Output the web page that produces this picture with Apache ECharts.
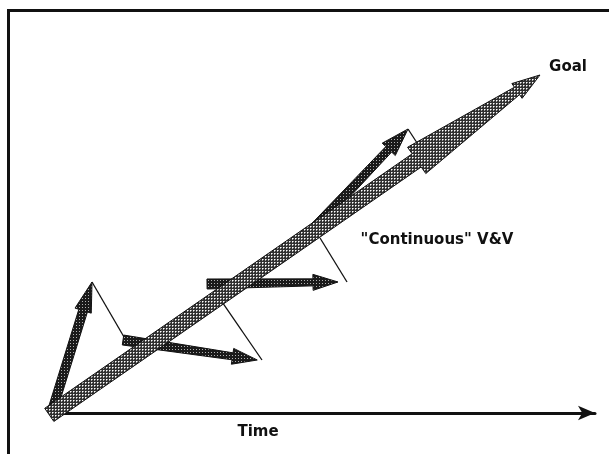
<!DOCTYPE html>
<html>
<head>
<meta charset="utf-8">
<script src="https://cdn.jsdelivr.net/npm/echarts@6/dist/echarts.min.js"></script>
<style>
  html, body { margin: 0; padding: 0; background: #fff; }
  #frame { position: absolute; left: 7px; top: 9px; width: 620px; height: 460px;
           border-left: 3px solid #111; border-top: 3px solid #111; }
  #chart { position: absolute; left: 0; top: 0; width: 609px; height: 454px; }
</style>
</head>
<body>
<div id="frame"></div>
<div id="chart"></div>
<script>
// ---- data (time units on x, progress units on y) ----
const arrowNames  = ['Direct path', 'Step 1', 'Step 2', 'Step 3', 'Step 4'];
const arrowStartX = [-0.5, 0.0, 13.08, 28.55, 45.67];
const arrowStartY = [-0.5, 0.5, 19.31, 34.13, 44.97];
const arrowEndX   = [89.87, 7.37, 37.80, 52.67, 65.56];
const arrowEndY   = [89.42, 34.66, 14.02, 34.66, 75.13];

const linkStartX = [7.37, 38.67, 54.33, 65.56];
const linkStartY = [34.66, 14.02, 34.66, 75.13];
const linkEndX   = [13.26, 31.31, 49.36, 67.96];
const linkEndY   = [20.11, 29.37, 46.30, 69.84];

const labelText = ['Goal', '"Continuous" V&V', 'Time'];
const labelX    = [95.03, 70.90, 37.94];
const labelY    = [91.53, 45.77, -5.03];

// ---- styles (pixel profiles of each arrow: [distance from start (neg = from tip), half width]) ----
const arrowProfiles = [
  [[0, 8], [-150, 8], [-150, 16], [-28, 4.5], [-28, 9]],
  [[0, 4.5], [-30, 4.5], [-30, 8.5]],
  [[0, 5], [-25, 3.5], [-25, 8]],
  [[0, 5], [-25, 3.5], [-25, 8]],
  [[0, 5], [-28, 4], [-28, 9]]
];

function makePattern(bg, dot, dot2) {
  const c = document.createElement('canvas');
  c.width = 3; c.height = 3;
  const g = c.getContext('2d');
  g.fillStyle = bg; g.fillRect(0, 0, 3, 3);
  g.fillStyle = dot; g.fillRect(1, 1, 1, 1);
  if (dot2) { g.fillStyle = dot2; g.fillRect(2, 1, 1, 1); g.fillRect(1, 2, 1, 1); }
  return c;
}
const mainPattern = { image: makePattern('#303030', '#ffffff', '#a0a0a0'), repeat: 'repeat' };
const darkPattern = { image: makePattern('#1a1a1a', '#b0b0b0'), repeat: 'repeat' };

function arrowPolygon(p0, p1, profile) {
  const dx = p1[0] - p0[0], dy = p1[1] - p0[1];
  const L = Math.hypot(dx, dy);
  const ux = dx / L, uy = dy / L, nx = -uy, ny = ux;
  const left = [], right = [];
  profile.forEach(function (st) {
    const d = st[0] < 0 ? L + st[0] : st[0];
    const cx = p0[0] + ux * d, cy = p0[1] + uy * d;
    left.push([cx + nx * st[1], cy + ny * st[1]]);
    right.push([cx - nx * st[1], cy - ny * st[1]]);
  });
  return left.concat([p1], right.reverse());
}

const arrowData = arrowNames.map(function (n, i) {
  return { name: n, value: [arrowStartX[i], arrowStartY[i], arrowEndX[i], arrowEndY[i]] };
});
const linkData = linkStartX.map(function (v, i) {
  return [linkStartX[i], linkStartY[i], linkEndX[i], linkEndY[i]];
});
const labelData = labelText.map(function (t, i) {
  return { name: t, value: [labelX[i], labelY[i]] };
});

const chart = echarts.init(document.getElementById('chart'), null, { renderer: 'canvas' });
chart.setOption({
  animation: false,
  backgroundColor: 'transparent',
  grid: { left: 52, right: 14, top: 35, bottom: 41 },
  xAxis: {
    type: 'value', min: 0, max: 100,
    axisLine: { show: true, symbol: ['none', 'arrow'], symbolSize: [11, 17],
                lineStyle: { color: '#111', width: 3 } },
    axisTick: { show: false }, axisLabel: { show: false }, splitLine: { show: false }
  },
  yAxis: {
    type: 'value', min: 0, max: 100, show: false
  },
  series: [
    {
      type: 'custom', name: 'links', data: linkData, z: 2,
      renderItem: function (params, api) {
        const a = api.coord([api.value(0), api.value(1)]);
        const b = api.coord([api.value(2), api.value(3)]);
        return { type: 'line', shape: { x1: a[0], y1: a[1], x2: b[0], y2: b[1] },
                 style: { stroke: '#111', lineWidth: 1.3 } };
      }
    },
    {
      type: 'custom', name: 'arrows', data: arrowData, z: 3,
      renderItem: function (params, api) {
        const i = params.dataIndex;
        const a = api.coord([api.value(0), api.value(1)]);
        const b = api.coord([api.value(2), api.value(3)]);
        const pts = arrowPolygon(a, b, arrowProfiles[i]);
        return { type: 'polygon', z2: i === 0 ? 10 : 1, shape: { points: pts },
                 style: { fill: i === 0 ? mainPattern : darkPattern, stroke: '#111', lineWidth: 1 } };
      }
    },
    {
      type: 'custom', name: 'labels', data: labelData, z: 5,
      renderItem: function (params, api) {
        const i = params.dataIndex;
        const p = api.coord([api.value(0), api.value(1)]);
        return { type: 'text', x: p[0], y: p[1],
                 style: { text: labelText[i], fill: '#111', fontSize: 15,
                          fontWeight: 'bold', fontFamily: 'DejaVu Sans',
                          align: 'center', verticalAlign: 'middle' } };
      }
    }
  ]
});
</script>
</body>
</html>
